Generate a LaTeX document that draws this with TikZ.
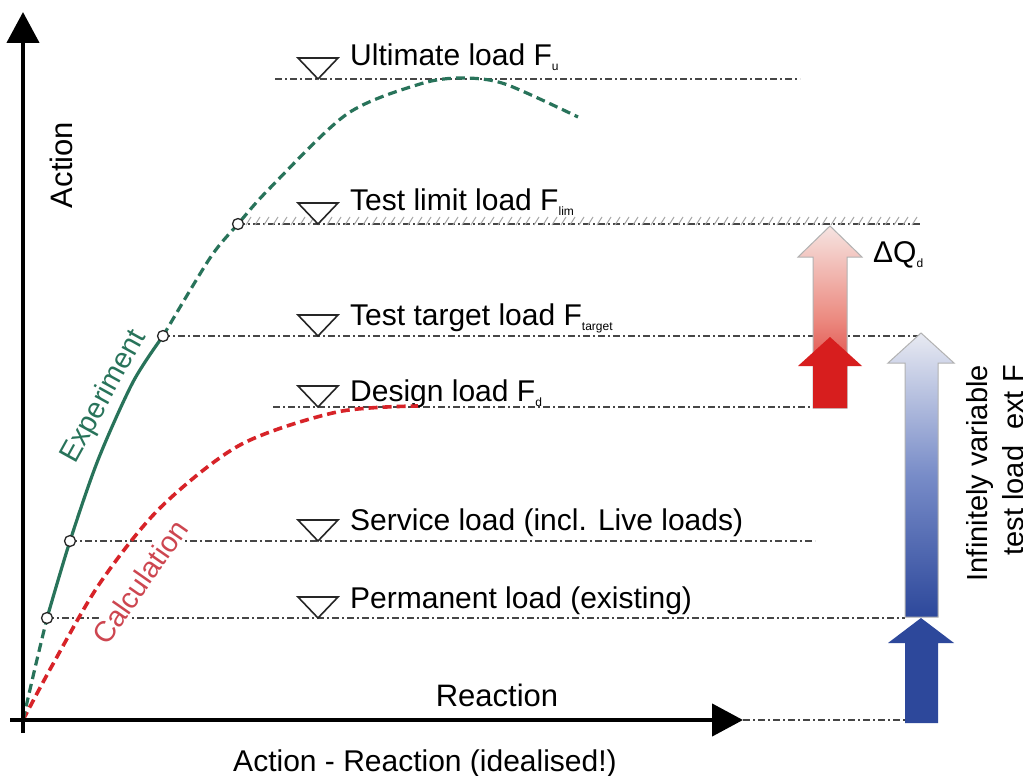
\documentclass[tikz,border=0pt]{standalone}
\usepackage{fontspec}
\setmainfont{Liberation Sans}
\usetikzlibrary{arrows.meta}
\definecolor{expgreen}{RGB}{40,115,90}
\definecolor{calcred}{RGB}{215,35,40}
\definecolor{calctext}{RGB}{205,70,80}
\definecolor{pinklight}{RGB}{246,228,225}
\definecolor{pinkmid}{RGB}{236,140,130}
\definecolor{redfull}{RGB}{215,30,30}
\definecolor{bluelight}{RGB}{232,234,242}
\definecolor{bluemid}{RGB}{120,140,200}
\definecolor{bluefull}{RGB}{45,72,155}
\newcommand\lsub[1]{\raisebox{-5pt}{\fontsize{12}{12}\selectfont#1}}

\begin{document}
\begin{tikzpicture}[x=1pt,y=-1pt,
    level/.style={gray!55!black,line width=1.4pt,dash pattern=on 7pt off 3pt on 2pt off 3pt},
    hatch/.style={gray!70,line width=1pt},
    loadmark/.style={black!85,line width=1.6pt,fill=white},
    loadtext/.style={anchor=base west,inner sep=0pt,font=\fontsize{30}{34}\selectfont},
    axis/.style={line width=4.5pt,-{Triangle[length=31pt,width=32pt]}},
    ptcircle/.style={circle,draw=black!85,fill=white,line width=1.3pt,inner sep=0pt,minimum size=11pt},
    expline/.style={expgreen,line width=3.2pt},
    expdash/.style={expline,dash pattern=on 9pt off 5pt},
    calcdash/.style={calcred,line width=3.6pt,dash pattern=on 9pt off 5pt},
    fatarrow/.style={draw=gray!60,line width=1pt}]
  \useasboundingbox[fill=white] (0,0) rectangle (1023,776);
  \clip (0,0) rectangle (1023,776);

  % axes corners and marked points of the test curve
  \coordinate (o) at (23,720);
  \coordinate (ytop) at (23,12);
  \coordinate (ybot) at (23,733);
  \coordinate (xleft) at (10,720);
  \coordinate (xtip) at (743,720);
  \coordinate (pperm) at (47,618);
  \coordinate (pserv) at (70,541);
  \coordinate (ptarget) at (163,336);
  \coordinate (plim) at (238,224);

  % load levels
  \draw[level] (275,79) -- (800,79);
  \draw[level] (plim) -- (920,224);
  \foreach \x in {246,255,...,915}
    \draw[hatch] (\x,225) -- ++(5,-8);
  \draw[level] (ptarget) -- (920,336);
  \draw[level] (273,407) -- (812,407);
  \draw[level] (pserv) -- (815,541);
  \draw[level] (pperm) -- (905,618);
  \draw[level] (xtip) -- (905,720);

  \foreach \y in {79,224,336,407,541,618}
    \draw[loadmark] (298,\y-21) -- (338,\y-21) -- (318,\y) -- cycle;

  \node[loadtext] (lu) at (350,66) {Ultimate load F\lsub{u}};
  \node[loadtext] (llim) at (350,210) {Test limit load F\lsub{lim}};
  \node[loadtext] (ltarget) at (350,325) {Test target load F\lsub{target}};
  \node[loadtext] (ld) at (350,401) {Design load F\lsub{d}};
  \node[loadtext] (lserv) at (350,530) {Service load (incl. Live loads)};
  \node[loadtext] (lperm) at (350,608) {Permanent load (existing)};

  % curve labels
  \node[rotate=61,text=expgreen,inner sep=1pt,font=\fontsize{29}{34}\selectfont] (exp) at (104,397) {Experiment};
  \node[rotate=55,text=calctext,fill=white,inner sep=2pt,font=\fontsize{29}{34}\selectfont] (calc) at (140,582) {Calculation};

  % calculation and experiment
  \draw[calcdash] plot[smooth] coordinates {(23,720) (53,664) (100,583) (160,508) (240,445) (337,412) (418,406)};
  \draw[expdash] plot[smooth] coordinates {(o) (35,668) (pperm)};
  \draw[expline] plot[smooth] coordinates {(pperm) (pserv) (98,460) (133,382) (ptarget)};
  \draw[expdash] plot[smooth] coordinates {(ptarget) (210,258) (plim) (270,188) (347,114) (420,84) (462,78) (505,84) (578,117)};
  \foreach \p in {pperm,pserv,ptarget,plim}
    \node[ptcircle] (c-\p) at (\p) {};

  % load steps
  \shadedraw[fatarrow,top color=pinklight,bottom color=redfull,middle color=pinkmid]
    (813,408) -- (813,257) -- (798,257) -- (830,226) -- (862,257) -- (847,257) -- (847,408) -- cycle;
  \fill[redfull] (813,408) -- (813,366) -- (798,366) -- (830,337) -- (862,366) -- (847,366) -- (847,408) -- cycle;
  \shadedraw[fatarrow,top color=bluelight,bottom color=bluefull,middle color=bluemid]
    (905,617) -- (905,363) -- (888,363) -- (921,333) -- (954,363) -- (938,363) -- (938,617) -- cycle;
  \fill[bluefull] (905,723) -- (905,643) -- (888,643) -- (921,618) -- (954,643) -- (938,643) -- (938,723) -- cycle;

  \node[loadtext] (dq) at (873,262) {ΔQ\lsub{d}};
  \node[rotate=90,align=right,anchor=north east,inner sep=0pt,font=\fontsize{29}{36}\selectfont] (var) at (966,365) {Infinitely variable\\test load\ \ ext F};

  % axes
  \draw[axis] (ybot) -- (ytop);
  \draw[axis] (xleft) -- (xtip);
  \node[rotate=90,font=\fontsize{31}{34}\selectfont] (act) at (61,165) {Action};
  \node[anchor=base,inner sep=0pt,font=\fontsize{31}{34}\selectfont] (rea) at (497,706) {Reaction};
  \node[anchor=base,inner sep=0pt,font=\fontsize{30}{34}\selectfont] (cap) at (425,771) {Action - Reaction (idealised!)};
\end{tikzpicture}
\end{document}
